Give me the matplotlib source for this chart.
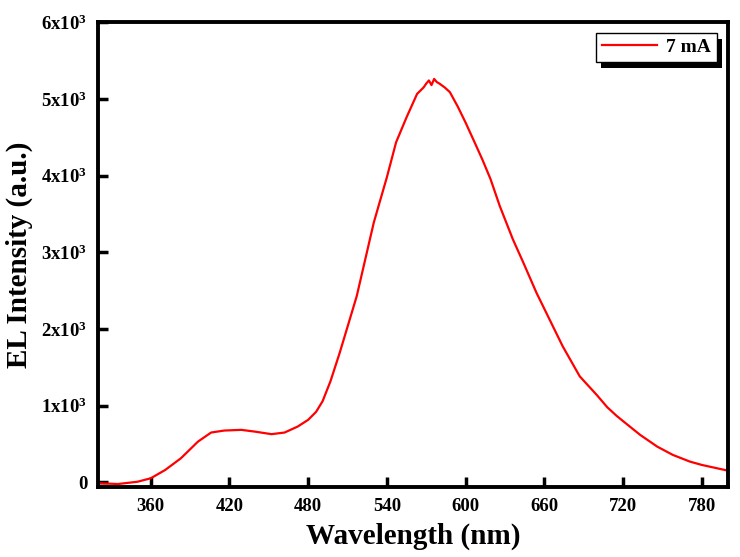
import matplotlib
matplotlib.use("Agg")
import matplotlib.pyplot as plt
from matplotlib.ticker import FixedLocator, FuncFormatter
from matplotlib.patches import Rectangle
from matplotlib.transforms import IdentityTransform

plt.rcParams['font.family'] = ['Liberation Serif', 'DejaVu Serif']
plt.rcParams['font.weight'] = 'bold'
plt.rcParams['mathtext.fontset'] = 'custom'
plt.rcParams['mathtext.rm'] = 'Liberation Serif:bold'
plt.rcParams['mathtext.it'] = 'Liberation Serif:bold'
plt.rcParams['mathtext.bf'] = 'Liberation Serif:bold'

# Data (wavelength nm, EL intensity a.u.)
wavelength = [320, 335, 350, 360, 371, 383, 396, 406, 416, 429, 439, 452,
              462, 472, 480, 486, 491, 497, 504, 510, 517, 530, 540, 547, 555, 563,
              568, 570, 572, 574, 576, 578, 580, 584, 588, 594, 600, 604, 608,
              613, 619, 626, 636, 644, 654, 664, 674, 687, 700, 708, 715, 720,
              733, 746, 758, 771, 780, 800]
intensity = [-10, -20, 10, 55, 163, 316, 533, 651, 677, 686, 664, 630,
             651, 729, 817, 920, 1060, 1320, 1689, 2030, 2429, 3388, 3980, 4434, 4761, 5065,
             5150, 5200, 5240, 5180, 5260, 5220, 5200, 5150, 5088, 4900, 4690, 4540, 4390,
             4200, 3954, 3605, 3170, 2865, 2473, 2124, 1775, 1383, 1140, 980, 870, 800,
             621, 468, 359, 272, 229, 154]

series_label = "7 mA"
x_ticks = [360, 420, 480, 540, 600, 660, 720, 780]
y_ticks = [0, 1000, 2000, 3000, 4000, 5000, 6000]

fig = plt.figure(figsize=(7.4, 5.57), dpi=100)
ax = fig.add_axes([0.1328, 0.1262, 0.851, 0.834])

ax.plot(wavelength, intensity, color='#ff0000', lw=1.6, label=series_label)

ax.set_xlim(320, 800)
ax.set_ylim(-55, 6000)
ax.xaxis.set_major_locator(FixedLocator(x_ticks))
ax.yaxis.set_major_locator(FixedLocator(y_ticks))

def yfmt(v, pos):
    if v == 0:
        return "0"
    return "%dx10$^{3}$" % int(round(v / 1000))

ax.yaxis.set_major_formatter(FuncFormatter(yfmt))

for s in ax.spines.values():
    s.set_linewidth(2.8)

ax.tick_params(axis='both', direction='in', length=7, width=2.5,
               labelsize=13.5, top=False, right=False)
ax.tick_params(axis='x', pad=8)
ax.tick_params(axis='y', pad=8)
for lab in ax.get_xticklabels() + ax.get_yticklabels():
    lab.set_fontweight('bold')

ax.set_xlabel("Wavelength (nm)", fontsize=21, fontweight='bold', labelpad=6)
ax.set_ylabel("EL Intensity (a.u.)", fontsize=21, fontweight='bold', labelpad=6)

leg = ax.legend(loc='upper right', bbox_to_anchor=(0.9825, 0.977), fontsize=14,
                frameon=True, fancybox=False, shadow=False, framealpha=1,
                edgecolor='black', handlelength=2.8, borderpad=0.3,
                handletextpad=0.5, borderaxespad=0.0)
leg.get_frame().set_linewidth(1.0)
leg.set_zorder(10)
for t in leg.get_texts():
    t.set_fontweight('bold')

# heavy drop shadow behind the legend box
fig.canvas.draw()
bb = leg.get_frame().get_window_extent()
shadow = Rectangle((bb.x0 + 5, bb.y0 - 6), bb.width, bb.height,
                   transform=IdentityTransform(), facecolor='black',
                   edgecolor='none', zorder=9, clip_on=False)
ax.add_artist(shadow)

fig.savefig("out.png", dpi=100)
